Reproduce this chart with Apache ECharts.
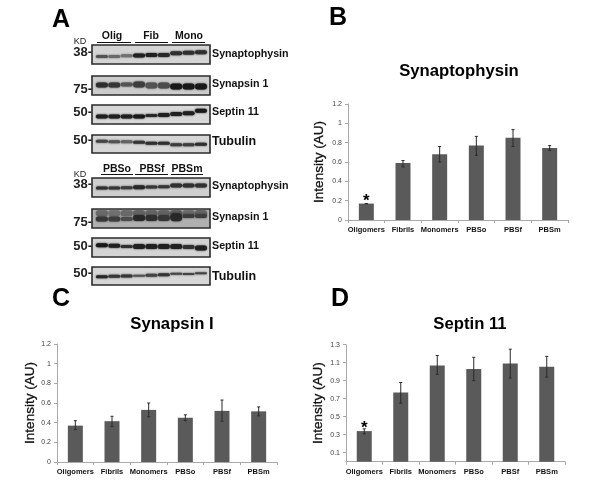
<!DOCTYPE html>
<html><head><meta charset="utf-8">
<style>html,body{margin:0;padding:0;background:#fff}#c{width:600px;height:500px}</style>
<script src="https://cdn.jsdelivr.net/npm/echarts@6/dist/echarts.min.js"></script>
</head><body><div id="c"></div>
<script>
const categories = ['Oligomers','Fibrils','Monomers','PBSo','PBSf','PBSm'];
const synaptophysinMean = [0.17,0.59,0.68,0.77,0.85,0.745];
const synaptophysinLow  = [0.17,0.55,0.60,0.67,0.76,0.72];
const synaptophysinHigh = [0.17,0.615,0.76,0.865,0.935,0.77];
const synapsinMean = [0.37,0.415,0.53,0.45,0.52,0.515];
const synapsinLow  = [0.33,0.36,0.46,0.42,0.415,0.47];
const synapsinHigh = [0.42,0.465,0.60,0.48,0.63,0.56];
const septinMean = [0.34,0.77,1.07,1.03,1.09,1.055];
const septinLow  = [0.31,0.65,0.97,0.90,0.93,0.94];
const septinHigh = [0.365,0.88,1.18,1.16,1.25,1.17];
const septinTicks = [0.1,0.3,0.5,0.7,0.9,1.1,1.3];

// blot band rows: vertical position inside the panel (0 top, 1 bottom), darkness, thickness
const aSynPos  = [.60,.60,.57,.55,.53,.53,.43,.41,.38];
const aSynDark = [.6,.45,.4,.95,.95,.9,.85,.85,.85];
const aSynThick= [3,3,3,4,4,4,4,4,4];
const aSpnPos  = [.47,.47,.45,.45,.50,.50,.55,.55,.55];
const aSpnDark = [.85,.8,.6,.75,.6,.65,1,1,1];
const aSpnThick= [5,5,4,6,6,6,6,6,6];
const aSepPos  = [.60,.60,.60,.60,.55,.52,.48,.43,.30];
const aSepDark = [.95,.95,.95,1,.9,.95,.95,.95,1];
const aSepThick= [4,4,4,4,3,4,4,4,4];
const aTubPos  = [.35,.37,.38,.40,.46,.46,.54,.54,.52];
const aTubDark = [.7,.6,.5,.8,.85,.85,.75,.75,.85];
const aTubThick= [3,3,3,3,3,3,3,3,3];
const bSynPos  = [.53,.53,.51,.49,.47,.46,.39,.39,.39];
const bSynDark = [.85,.8,.75,.9,.8,.8,.85,.85,.85];
const bSynThick= [3,3,3,4,3,3,4,4,4];
const bSpnUpPos = [.23,.23,.23,.23,.23,.23,.23,.23,.23];
const bSpnUpDark= [.45,.4,.45,.5,.5,.5,.55,.45,.5];
const bSpnUpThick=[6,6,6,6,6,6,6,6,6];
const bSpnPos  = [.53,.53,.53,.47,.47,.47,.43,.37,.37];
const bSpnDark = [.8,.75,.65,.9,.85,.8,.9,.75,.75];
const bSpnThick= [5,5,4,6,6,6,8,4,4];
const bSepPos  = [.375,.41,.45,.45,.45,.45,.45,.47,.52];
const bSepDark = [1,.95,.85,.95,.95,.95,.95,.85,.95];
const bSepThick= [4,4,3,5,5,5,5,4,5];
const bTubPos  = [.54,.52,.50,.48,.46,.43,.37,.39,.35];
const bTubDark = [.9,.8,.8,.6,.7,.8,.7,.7,.7];
const bTubThick= [3,3,3,2,3,3,2,2,2];

const panelRows = [
  [[aSynPos,aSynDark,aSynThick]],
  [[aSpnPos,aSpnDark,aSpnThick]],
  [[aSepPos,aSepDark,aSepThick]],
  [[aTubPos,aTubDark,aTubThick]],
  [[bSynPos,bSynDark,bSynThick]],
  [[bSpnUpPos,bSpnUpDark,bSpnUpThick],[bSpnPos,bSpnDark,bSpnThick]],
  [[bSepPos,bSepDark,bSepThick]],
  [[bTubPos,bTubDark,bTubThick]]
];
const panelBoxes = [[45,19,'#d4d4d4'],[76,19,'#cccccc'],[105,19,'#d8d8d8'],[135,18,'#d6d6d6'],
                    [178,19,'#cfcfcf'],[209,19,'#b0b0b0'],[238,19,'#d4d4d4'],[267,18,'#d6d6d6']];
const proteinNames = ['Synaptophysin','Synapsin 1','Septin 11','Tubulin','Synaptophysin','Synapsin 1','Septin 11','Tubulin'];
const kdLabels = ['38-','75-','50-','50-','38-','75-','50-','50-'];
const groupsTop = ['Olig','Fib','Mono'];
const groupsBottom = ['PBSo','PBSf','PBSm'];

const FONT = '"Liberation Sans",Arial,sans-serif';
const option = {animation:false, backgroundColor:'#fff', textStyle:{fontFamily:FONT},
  title:[], grid:[], xAxis:[], yAxis:[], series:[], graphic:[]};

function addBars(cfg){
  const i = option.grid.length;
  option.grid.push({left:cfg.left,top:cfg.top,width:cfg.width,height:cfg.height,show:false});
  option.xAxis.push({type:'category',gridIndex:i,data:categories,
    axisLine:{lineStyle:{color:'#a8a8a8',width:1}},
    axisTick:{show:true,length:3,lineStyle:{color:'#a8a8a8'}},
    axisLabel:{interval:0,color:'#111',fontWeight:'bold',fontSize:7.5,fontFamily:FONT,margin:6,hideOverlap:false},
    splitLine:{show:false}});
  const yLabel = {color:'#444',fontSize:7,fontFamily:FONT,margin:6};
  const yTick = {show:true,length:3,lineStyle:{color:'#a8a8a8'}};
  if(cfg.customTicks){yLabel.customValues=cfg.customTicks;yTick.customValues=cfg.customTicks;}
  option.yAxis.push({type:'value',gridIndex:i,min:0,max:cfg.max,interval:cfg.interval,
    name:'Intensity (AU)',nameLocation:'middle',nameGap:cfg.nameGap,
    nameTextStyle:{color:'#111',fontSize:13.5,fontFamily:FONT,textBorderColor:'#111',textBorderWidth:0.3},
    axisLine:{show:true,lineStyle:{color:'#a8a8a8',width:1}},axisTick:yTick,axisLabel:yLabel,splitLine:{show:false}});
  option.series.push({type:'bar',xAxisIndex:i,yAxisIndex:i,barWidth:15,
    itemStyle:{color:'#5a5a5a'},
    data:cfg.mean.map((v,k)=>cfg.star&&k===0?{value:v,label:{show:true,position:'top',distance:-6,formatter:'*',fontSize:17,fontWeight:'bold',color:'#000',fontFamily:FONT}}:v)});
  option.series.push({type:'custom',xAxisIndex:i,yAxisIndex:i,z:5,
    data:cfg.mean.map((v,k)=>[k,cfg.low[k],cfg.high[k]]),
    encode:{x:0,y:[1,2]},
    renderItem:(p,api)=>{
      const a=api.coord([api.value(0),api.value(1)]), b=api.coord([api.value(0),api.value(2)]);
      const st={stroke:'#2a2a2a',lineWidth:1,fill:null};
      return {type:'group',children:[
        {type:'line',shape:{x1:a[0],y1:a[1],x2:b[0],y2:b[1]},style:st},
        {type:'line',shape:{x1:a[0]-1.5,y1:a[1],x2:a[0]+1.5,y2:a[1]},style:st},
        {type:'line',shape:{x1:b[0]-1.5,y1:b[1],x2:b[0]+1.5,y2:b[1]},style:st}]};
    }});
}
addBars({left:348,top:104,width:220,height:116,max:1.2,interval:0.2,nameGap:22,mean:synaptophysinMean,low:synaptophysinLow,high:synaptophysinHigh,star:true});
addBars({left:57,top:344,width:220,height:118,max:1.2,interval:0.2,nameGap:20,mean:synapsinMean,low:synapsinLow,high:synapsinHigh});
addBars({left:346,top:344.7,width:219,height:117,max:1.3,interval:0.1,nameGap:21,mean:septinMean,low:septinLow,high:septinHigh,star:true,customTicks:septinTicks});

panelBoxes.forEach((box,n)=>{
  const i = option.grid.length;
  option.grid.push({left:92,top:box[0],width:118,height:box[1],show:true,backgroundColor:box[2],borderColor:'#2b2b2b',borderWidth:1.6});
  option.xAxis.push({type:'value',gridIndex:i,min:-0.8,max:8.73,show:false});
  option.yAxis.push({type:'value',gridIndex:i,min:0,max:1,inverse:true,show:false});
  const data=[];
  panelRows[n].forEach(r=>r[0].forEach((p,l)=>data.push([l,p,r[1][l],r[2][l]])));
  option.series.push({type:'custom',xAxisIndex:i,yAxisIndex:i,clip:true,data,
    renderItem:(p,api)=>{
      const c=api.coord([api.value(0),api.value(1)]), d=api.value(2), t=api.value(3);
      const g=Math.round(170-d*145), col=`rgb(${g},${g},${g})`;
      return {type:'rect',shape:{x:c[0]-6,y:c[1]-t/2,width:12,height:t,r:t/2},
        style:{fill:col,shadowBlur:2,shadowColor:col}};
    }});
  const big = proteinNames[n]==='Tubulin';
  option.graphic.push({type:'text',left:212,top:[55,85,113,142,187,218,247,277][n]-(big?7:6),
    style:{text:proteinNames[n],font:`bold ${big?12.5:10.7}px ${FONT}`,fill:'#111'}});
  option.graphic.push({type:'text',right:600-92,top:[53,90,113,141,185,223,247,274][n]-7,
    style:{text:kdLabels[n],font:`bold 13px ${FONT}`,fill:'#222'}});
});

[['A',52,8],['B',329,6],['C',52,287],['D',331,287]].forEach(t=>option.graphic.push(
  {type:'text',left:t[1],top:t[2],style:{text:t[0],font:`bold 25px ${FONT}`,fill:'#000'}}));
[['Synaptophysin',459,63],['Synapsin I',172,316],['Septin 11',470,316]].forEach(t=>option.graphic.push(
  {type:'text',x:t[1],y:t[2],style:{text:t[0],align:'center',font:`bold 16.7px ${FONT}`,fill:'#000'}}));
[['KD',80,37],['KD',80,170]].forEach(t=>option.graphic.push(
  {type:'text',x:t[1],y:t[2],style:{text:t[0],align:'center',font:`9px ${FONT}`,fill:'#222'}}));
const hdr=(names,xs,y,uy,spans)=>names.forEach((nm,k)=>{
  option.graphic.push({type:'text',x:xs[k],y:y,style:{text:nm,align:'center',font:`bold 10.5px ${FONT}`,fill:'#111'}});
  option.graphic.push({type:'line',shape:{x1:spans[k][0],y1:uy,x2:spans[k][1],y2:uy},style:{stroke:'#111',lineWidth:1}});
});
hdr(groupsTop,[112,151,189],31,42.5,[[97,131],[135,168],[172,205]]);
hdr(groupsBottom,[117,152,187],164,174.5,[[101,133],[135,168],[171,203]]);

const chart = echarts.init(document.getElementById('c'),null,{renderer:'canvas'});
chart.setOption(option);
</script></body></html>
